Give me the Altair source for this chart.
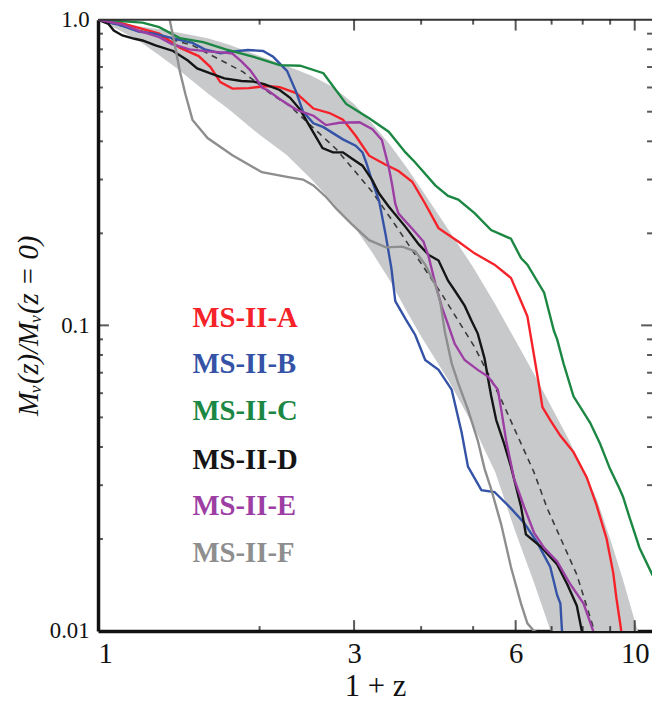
import altair as alt
import pandas as pd

# ---------------- data ----------------
names = ["MS-II-A", "MS-II-B", "MS-II-C", "MS-II-D", "MS-II-E", "MS-II-F"]
colors = ["#f5222a", "#3553a6", "#1c8743", "#151515", "#9c3ea3", "#8e8e8e"]

a_x = [1.0, 1.08, 1.15, 1.30, 1.42, 1.54, 1.62, 1.69, 1.78, 1.91, 2.06, 2.18, 2.34, 2.52, 2.70, 2.86, 3.02, 3.20,
       3.43, 3.63, 3.85, 4.07, 4.31, 4.69, 5.03, 5.48, 5.88, 6.14, 6.31, 6.49, 6.62, 6.73, 6.96, 7.27, 7.69, 8.14,
       8.49, 8.86, 9.12, 9.24, 9.44, 9.5]
a_y = [1.0, 0.985, 0.956, 0.90, 0.81, 0.76, 0.70, 0.625, 0.595, 0.597, 0.607, 0.602, 0.575, 0.512, 0.495, 0.471,
       0.417, 0.359, 0.336, 0.32, 0.295, 0.25, 0.208, 0.188, 0.172, 0.158, 0.143, 0.12, 0.107, 0.08, 0.065, 0.054,
       0.049, 0.0435, 0.0385, 0.0318, 0.0258, 0.0201, 0.0155, 0.0129, 0.0100, 0.0095]

b_x = [1.0, 1.10, 1.19, 1.28, 1.39, 1.50, 1.58, 1.69, 1.79, 1.90, 2.03, 2.12, 2.25, 2.34, 2.41, 2.52, 2.63, 2.86,
       3.02, 3.11, 3.16, 3.245, 3.34, 3.435, 3.52, 3.58, 3.74, 3.90, 4.07, 4.31, 4.56, 4.76, 4.89, 5.18, 5.48, 5.88,
       6.22, 6.58, 6.96, 7.17, 7.27, 7.32, 7.35]
b_y = [1.0, 0.96, 0.915, 0.899, 0.866, 0.84, 0.80, 0.777, 0.787, 0.796, 0.79, 0.756, 0.68, 0.58, 0.50, 0.458, 0.445,
       0.406, 0.387, 0.368, 0.341, 0.295, 0.255, 0.198, 0.154, 0.12, 0.105, 0.093, 0.077, 0.0715, 0.0616, 0.0445,
       0.0345, 0.0289, 0.0285, 0.0252, 0.0226, 0.0195, 0.0162, 0.0131, 0.0123, 0.0100, 0.0095]

c_x = [1.0, 1.21, 1.30, 1.42, 1.57, 1.73, 1.95, 2.18, 2.38, 2.63, 2.90, 3.20, 3.48, 3.74, 3.90, 4.25, 4.49, 4.69,
       5.03, 5.40, 5.88, 6.14, 6.31, 6.78, 7.07, 7.17, 7.37, 7.69, 8.26, 8.62, 8.99, 9.37, 9.51, 9.79, 10.21, 10.8]
c_y = [1.0, 0.978, 0.945, 0.87, 0.845, 0.80, 0.756, 0.71, 0.707, 0.668, 0.53, 0.476, 0.43, 0.368, 0.341, 0.287,
       0.265, 0.258, 0.233, 0.205, 0.192, 0.166, 0.158, 0.128, 0.096, 0.090, 0.075, 0.0586, 0.048, 0.041, 0.034,
       0.0292, 0.0275, 0.0234, 0.0187, 0.0152]

d_x = [1.0, 1.046, 1.07, 1.11, 1.17, 1.21, 1.28, 1.38, 1.47, 1.53, 1.62, 1.72, 1.85, 1.95, 2.04, 2.18, 2.28, 2.38,
       2.45, 2.52, 2.62, 2.74, 2.86, 2.98, 3.11, 3.245, 3.34, 3.48, 3.74, 3.96, 4.13, 4.31, 4.49, 4.62, 4.82, 4.96,
       5.10, 5.25, 5.33, 5.40, 5.52, 5.71, 5.88, 6.0, 6.14, 6.27, 6.68, 7.17, 7.49, 7.80, 7.97, 8.0]
d_y = [1.0, 0.968, 0.921, 0.888, 0.866, 0.855, 0.824, 0.79, 0.735, 0.693, 0.667, 0.643, 0.63, 0.627, 0.615, 0.589,
       0.555, 0.508, 0.465, 0.427, 0.38, 0.368, 0.368, 0.35, 0.333, 0.298, 0.27, 0.245, 0.21, 0.184, 0.17, 0.163,
       0.14, 0.13, 0.116, 0.104, 0.094, 0.078, 0.067, 0.059, 0.049, 0.041, 0.0345, 0.030, 0.0255, 0.0207, 0.0189,
       0.0165, 0.0142, 0.0121, 0.0100, 0.0097]

e_x = [1.0, 1.11, 1.19, 1.30, 1.37, 1.48, 1.60, 1.72, 1.78, 1.85, 1.92, 1.97, 2.02, 2.07, 2.18, 2.34, 2.52, 2.66,
       2.82, 3.07, 3.245, 3.38, 3.48, 3.53, 3.58, 3.63, 3.85, 4.04, 4.13, 4.25, 4.37, 4.46, 4.62, 4.82, 5.10, 5.33,
       5.56, 5.64, 5.76, 5.96, 6.22, 6.49, 6.78, 7.17, 7.59, 8.03, 8.37, 8.4]
e_y = [1.0, 0.965, 0.921, 0.877, 0.834, 0.80, 0.788, 0.78, 0.775, 0.73, 0.684, 0.643, 0.60, 0.588, 0.55, 0.508,
       0.485, 0.452, 0.46, 0.462, 0.438, 0.404, 0.33, 0.29, 0.25, 0.232, 0.207, 0.188, 0.168, 0.137, 0.115, 0.104,
       0.087, 0.077, 0.0715, 0.068, 0.0616, 0.053, 0.042, 0.0315, 0.0255, 0.021, 0.0187, 0.0169, 0.0142, 0.0123,
       0.0100, 0.0097]

f_x = [1.33, 1.36, 1.39, 1.42, 1.455, 1.50, 1.60, 1.78, 2.02, 2.25, 2.41, 2.52, 2.66, 2.78, 2.98, 3.2, 3.44, 3.69,
       3.90, 4.07, 4.25, 4.34, 4.43, 4.56, 4.69, 4.89, 5.10, 5.25, 5.40, 5.64, 5.88, 6.14, 6.31, 6.49, 6.7]
f_y = [1.15, 1.0, 0.83, 0.68, 0.57, 0.47, 0.41, 0.36, 0.317, 0.306, 0.30, 0.287, 0.263, 0.241, 0.213, 0.19, 0.18,
       0.181, 0.1747, 0.158, 0.136, 0.12, 0.095, 0.0751, 0.0647, 0.053, 0.042, 0.034, 0.0292, 0.0223, 0.0162, 0.0123,
       0.0106, 0.0100, 0.0098]

mean_x = [1.0, 1.2, 1.5, 1.86, 2.09, 2.28, 2.78, 3.245, 3.58, 4.37, 5.03, 5.64, 6.49, 6.87, 7.8, 8.37, 8.45]
mean_y = [1.0, 0.92, 0.824, 0.676, 0.575, 0.521, 0.377, 0.273, 0.213, 0.1265, 0.085, 0.0572, 0.0331, 0.0252,
          0.0153, 0.0103, 0.0098]

band_x = [1.0, 1.1, 1.2, 1.3, 1.4, 1.5, 1.6, 1.75, 2.0, 2.25, 2.5, 2.75, 3.0, 3.25, 3.5, 3.75, 4.0, 4.5, 5.0, 5.5,
          6.0, 6.5, 7.0, 7.5, 8.0, 8.5, 9.0, 9.5, 10.0, 10.3]
band_lo = [1.0, 0.92, 0.845, 0.765, 0.695, 0.63, 0.575, 0.51, 0.42, 0.36, 0.30, 0.25, 0.21, 0.172, 0.14, 0.112,
           0.092, 0.066, 0.047, 0.033, 0.021, 0.0143, 0.0098, 0.0068, 0.0048, 0.0035, 0.0028, 0.0022, 0.0018, 0.0016]
band_hi = [1.0, 0.975, 0.95, 0.93, 0.91, 0.89, 0.87, 0.83, 0.76, 0.705, 0.655, 0.60, 0.53, 0.455, 0.39, 0.33,
           0.28, 0.205, 0.155, 0.117, 0.089, 0.069, 0.054, 0.043, 0.034, 0.027, 0.020, 0.0148, 0.0108, 0.0092]

label_x = 1.5
label_y = [0.106, 0.0747, 0.0523, 0.0363, 0.0256, 0.018]

x_tick_labels = [1, 3, 6, 10]
x_major = [3, 6, 10]
x_minor = [2, 4, 5, 7, 8, 9]
y_tick_labels = [0.01, 0.1, 1.0]
y_major = [0.1]
y_minor = [0.02, 0.03, 0.04, 0.05, 0.06, 0.07, 0.08, 0.09, 0.2, 0.3, 0.4, 0.5, 0.6, 0.7, 0.8, 0.9]

# ---------------- tables ----------------
rows = []
for n, xs_, ys_ in zip(names, [a_x, b_x, c_x, d_x, e_x, f_x], [a_y, b_y, c_y, d_y, e_y, f_y]):
    for i, (xv, yv) in enumerate(zip(xs_, ys_)):
        rows.append({"name": n, "x": xv, "y": yv, "i": i})
lines_df = pd.DataFrame(rows)
mean_df = pd.DataFrame({"x": mean_x, "y": mean_y})
band_df = pd.DataFrame({"x": band_x, "lo": band_lo, "hi": band_hi})
lab_df = pd.DataFrame({"name": names, "x": [label_x] * 6, "y": label_y})

W, H = 560, 618
SERIF = "Liberation Serif"

xs = alt.Scale(type="log", domain=[1, 10.77], nice=False)
ys = alt.Scale(type="log", domain=[0.01, 1.0], nice=False)

x_axis = alt.Axis(values=x_tick_labels, labelExpr="format(datum.value, 'd')", ticks=False, grid=False,
                  domainWidth=3.5, domainColor="#111111", labelFont=SERIF, labelFontSize=29,
                  labelColor="#111111", labelPadding=9, title="1 + z", titleFont=SERIF,
                  titleFontSize=31, titleFontWeight="normal", titleColor="#111111", titlePadding=3)
y_axis = alt.Axis(values=y_tick_labels,
                  labelExpr="datum.value >= 1 ? '1.0' : (datum.value >= 0.1 ? '0.1' : '0.01')",
                  ticks=False, grid=False, domainWidth=3.5, domainColor="#111111", labelFont=SERIF,
                  labelFontSize=23, labelColor="#111111", labelPadding=9,
                  title="Mᵥ(z)/Mᵥ(z = 0)", titleFont=SERIF, titleFontSize=29, titleFontStyle="italic",
                  titleFontWeight="normal", titleColor="#111111", titlePadding=6)

X = lambda f="x": alt.X(f"{f}:Q", scale=xs, axis=x_axis)
Y = lambda f="y": alt.Y(f"{f}:Q", scale=ys, axis=y_axis)

band = alt.Chart(band_df).mark_area(color="#c8c9cb", clip=True).encode(
    x=X(), y=Y("lo"), y2="hi:Q")

mean = alt.Chart(mean_df).mark_line(color="#3a3a3a", strokeWidth=1.6, strokeDash=[6, 5], clip=True).encode(
    x=X(), y=Y())

lines = alt.Chart(lines_df).mark_line(strokeWidth=2.4, clip=True).encode(
    x=X(), y=Y(),
    color=alt.Color("name:N", scale=alt.Scale(domain=names, range=colors), legend=None),
    order="i:Q")

labels = alt.Chart(lab_df).mark_text(align="left", baseline="middle", font=SERIF, fontWeight="bold",
                                     fontSize=29).encode(
    x=X(), y=Y(), text="name:N",
    color=alt.Color("name:N", scale=alt.Scale(domain=names, range=colors), legend=None))

top_line = alt.Chart(pd.DataFrame({"y": [1.0]})).mark_rule(color="#333333", strokeWidth=2).encode(y=Y())

def xticks(vals, length, top):
    d = pd.DataFrame({"x": vals})
    pos = length / 2 if top else H - length / 2
    return alt.Chart(d).mark_tick(orient="vertical", size=length, thickness=2, color="#111111").encode(
        x=X(), y=alt.value(pos))

def yticks(vals, length, right):
    d = pd.DataFrame({"y": vals})
    pos = W - length / 2 if right else length / 2
    return alt.Chart(d).mark_tick(orient="horizontal", size=length, thickness=2, color="#111111").encode(
        y=Y(), x=alt.value(pos))

tick_layers = [
    xticks(x_major, 11, False), xticks(x_minor, 5, False),
    xticks(x_major, 11, True), xticks(x_minor, 5, True),
    yticks(y_major, 11, False), yticks(y_minor, 5, False),
    yticks(y_major, 11, True), yticks(y_minor, 5, True),
]

chart = alt.layer(band, mean, lines, labels, top_line, *tick_layers).properties(
    width=W, height=H,
    padding={"left": 91, "top": 8, "right": 0, "bottom": 75},
    autosize=alt.AutoSizeParams(type="none"),
    background="white",
).configure_view(stroke=None)

chart.save("out.html", embed_options={"renderer": "svg", "actions": False})
